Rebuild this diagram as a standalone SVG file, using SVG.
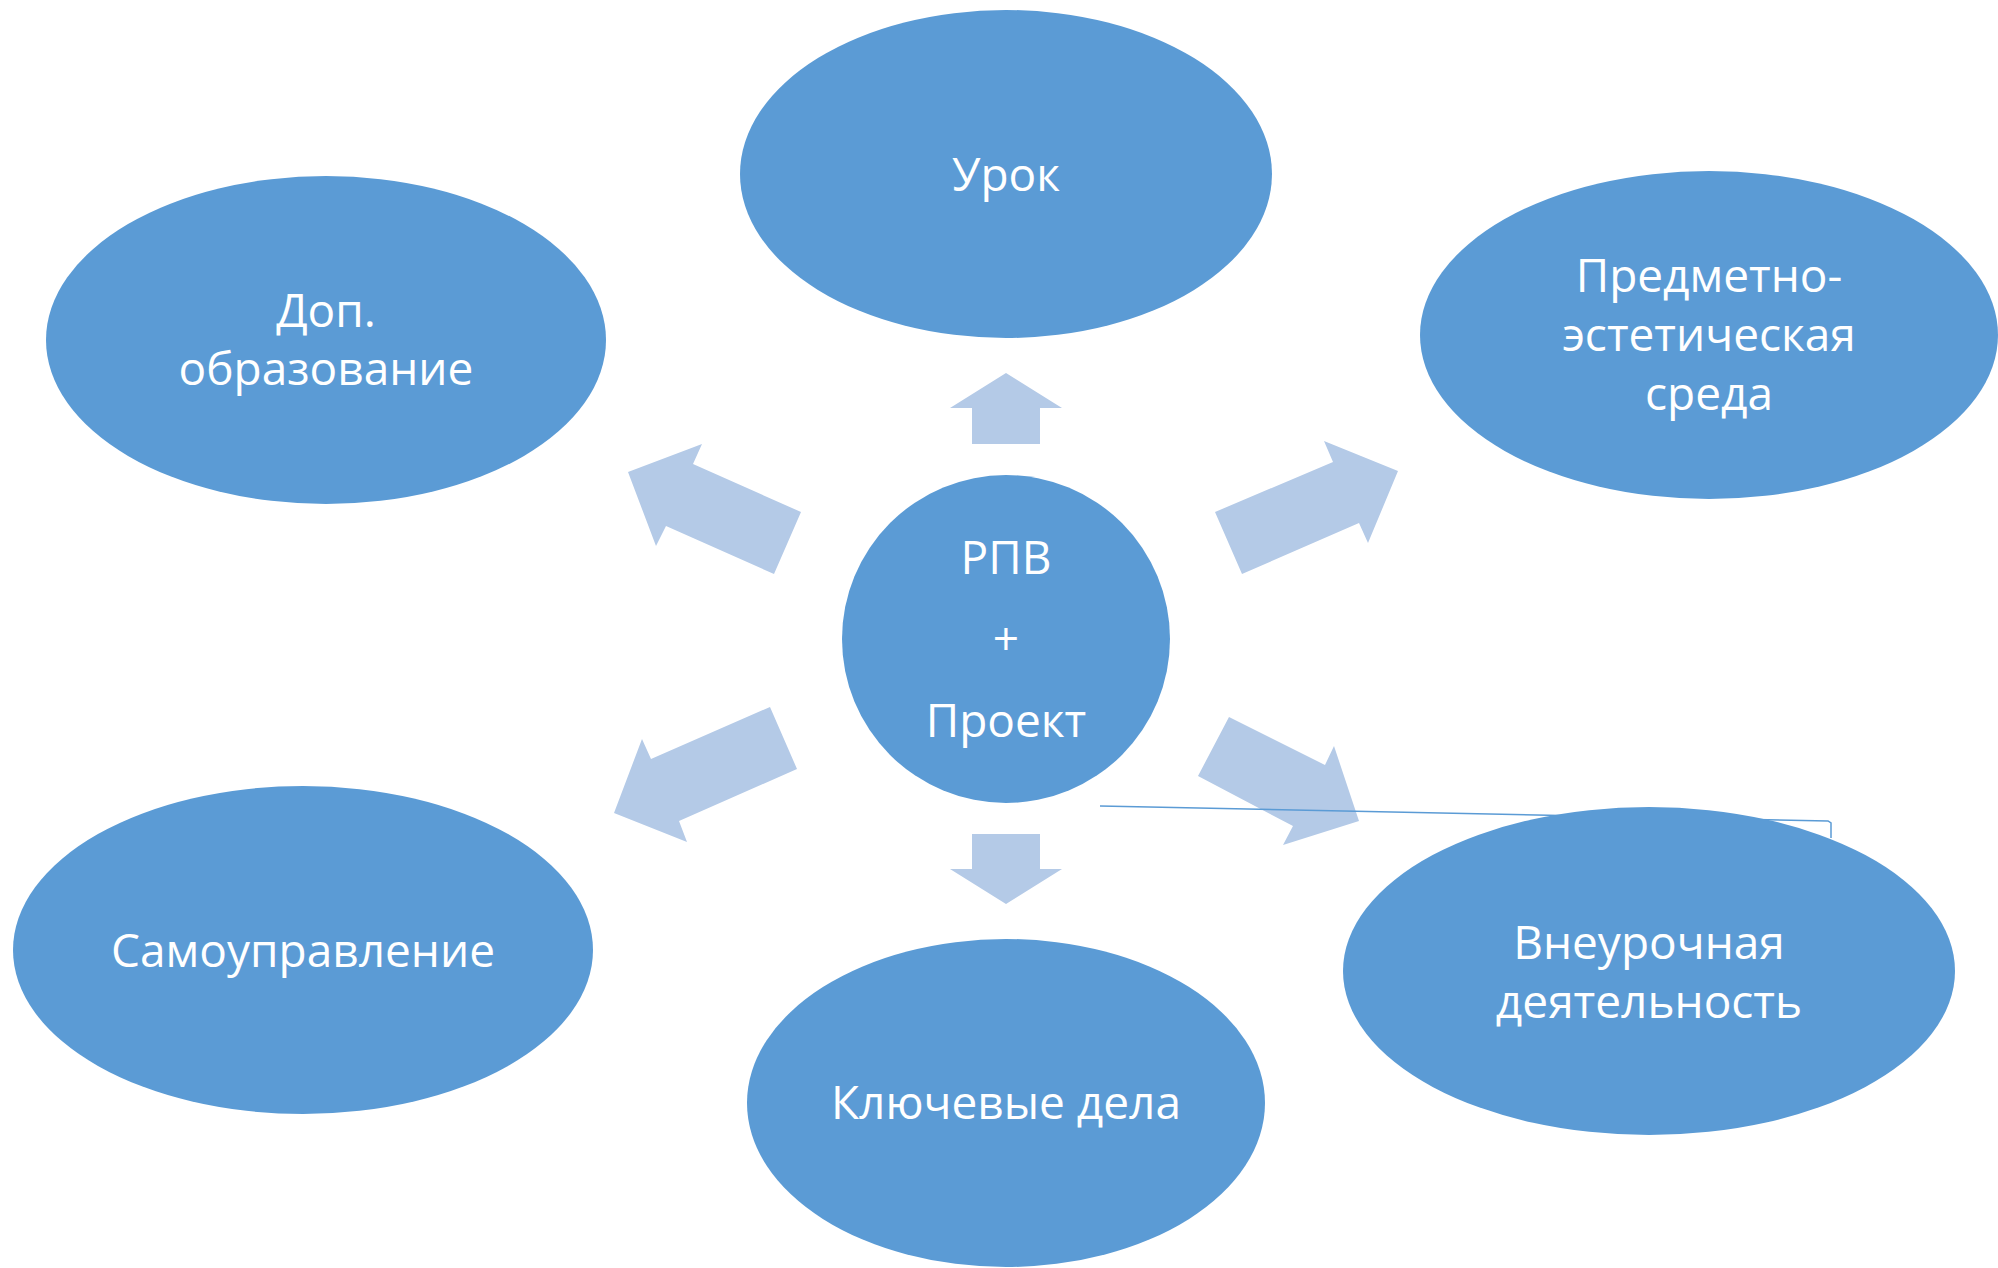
<svg xmlns="http://www.w3.org/2000/svg" width="1998" height="1268" viewBox="0 0 1998 1268">
<style>
.n{fill:#5b9bd5}
.t{fill:#ffffff;font-family:"Open Sans","Noto Sans","DejaVu Sans",sans-serif;font-size:46px;text-anchor:middle}
.a{fill:#b4cae7}
</style>
<rect width="1998" height="1268" fill="#ffffff"/>
<g id="connectors">
<polygon class="a" points="1006,373 1062,408 1040,408 1040,444 972,444 972,408 950,408"/>
<polygon class="a" points="972,834 1040,834 1040,869 1062,869 1006,904 950,869 972,869"/>
<polygon class="a" points="628,472 702,444 693,464 801,512 774,574 666,526 656,546"/>
<polygon class="a" points="1398,471 1368,543 1359,523 1242,574 1215,512 1333,462 1324,441"/>
<polygon class="a" points="614,813 642,739 651,759 770,707 797,769 679,821 687,842"/>
<polygon class="a" points="1359,821 1283,845 1293,826 1198,776 1229,717 1325,765 1334,746"/>
<polyline points="1100,806 1828,821 1831,823 1831,838" fill="none" stroke="#5b9bd5" stroke-width="1.5"/>
</g>
<g id="center">
<circle class="n" cx="1006" cy="639" r="164"/>
<text class="t" x="1006" y="574">РПВ</text>
<text class="t" x="1006" y="655">+</text>
<text class="t" x="1006" y="737">Проект</text>
</g>
<g id="urok">
<ellipse class="n" cx="1006" cy="174" rx="266" ry="164"/>
<text class="t" x="1006" y="191">Урок</text>
</g>
<g id="dop">
<ellipse class="n" cx="326" cy="340" rx="280" ry="164"/>
<text class="t" x="326" y="327">Доп.</text>
<text class="t" x="326" y="385">образование</text>
</g>
<g id="predmet">
<ellipse class="n" cx="1709" cy="335" rx="289" ry="164"/>
<text class="t" x="1709" y="292">Предметно-</text>
<text class="t" x="1709" y="351">эстетическая</text>
<text class="t" x="1709" y="410">среда</text>
</g>
<g id="samoupr">
<ellipse class="n" cx="303" cy="950" rx="290" ry="164"/>
<text class="t" x="303" y="967">Самоуправление</text>
</g>
<g id="klyuch">
<ellipse class="n" cx="1006" cy="1103" rx="259" ry="164"/>
<text class="t" x="1006" y="1119">Ключевые дела</text>
</g>
<g id="vneur">
<ellipse class="n" cx="1649" cy="971" rx="306" ry="164"/>
<text class="t" x="1649" y="959">Внеурочная</text>
<text class="t" x="1649" y="1018">деятельность</text>
</g>
</svg>
